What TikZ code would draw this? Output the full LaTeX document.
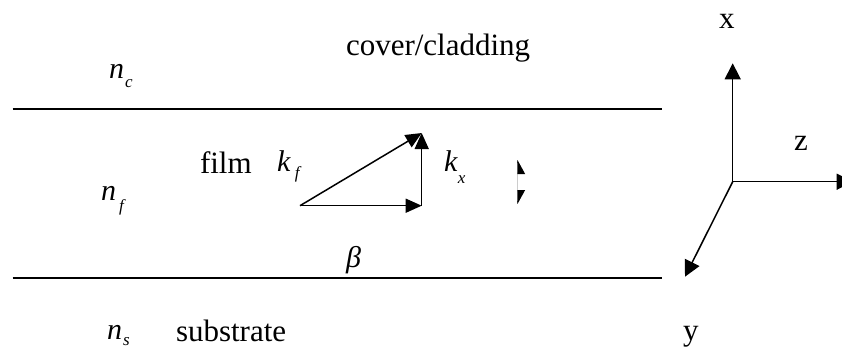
\documentclass[tikz,border=0pt]{standalone}
\usepackage{fontspec}
\setmainfont{Liberation Serif}
\usetikzlibrary{arrows.meta}
\newcommand{\sublab}[4]{\textit{#1}\hspace{#3}\raisebox{-#4}{\fontsize{17}{20}\selectfont\textit{#2}}}
\tikzset{
  lbl/.style={anchor=base west, inner sep=0pt, outer sep=0pt, font=\fontsize{31}{36}\selectfont},
  mlbl/.style={anchor=base west, inner sep=0pt, outer sep=0pt, font=\fontsize{30}{36}\selectfont},
  layerline/.style={line width=2pt},
  vec/.style={line width=1.5pt, -{Triangle[length=16pt,width=14pt]}},
  axis/.style={line width=1.5pt, -{Triangle[length=16pt,width=16pt]}},
  fragarrow/.style={line width=1.2pt, gray!60, {Triangle[length=14pt,width=15pt,color=black]}-{Triangle[length=14pt,width=15pt,color=black]}}
}
\begin{document}
\begin{tikzpicture}[x=1pt,y=-1pt]
\clip (0,0) rectangle (842,349);
\fill[white] (0,0) rectangle (842,349);
% layer boundaries
\coordinate (L1a) at (12.7,109.3);
\coordinate (L1b) at (661.7,109.3);
\coordinate (L2a) at (12.7,277.7);
\coordinate (L2b) at (661.7,277.7);
\draw[layerline] (L1a) -- (L1b);
\draw[layerline] (L2a) -- (L2b);
% texts
\node[lbl] (cover) at (346,55) {cover/cladding};
\node[lbl] (film) at (200,173) {film};
\node[lbl] (subs) at (176,341) {substrate};
\node[mlbl] (nc) at (109,78) {\sublab{n}{c}{1pt}{9pt}};
\node[mlbl] (nf) at (101,200) {\sublab{n}{f}{3pt}{11pt}};
\node[mlbl] (ns) at (107,339) {\sublab{n}{s}{1pt}{6pt}};
\node[mlbl] (kf) at (277,171) {\sublab{k}{f}{4pt}{7pt}};
\node[mlbl] (kx) at (444,171) {\sublab{k}{x}{0pt}{12pt}};
\node[mlbl] (beta) at (346,267) {\textit{β}};
% wave vector triangle
\coordinate (A) at (300,205.7);
\coordinate (B) at (421.7,205.7);
\coordinate (C) at (421.7,133);
\draw[vec] (A) -- (B);
\draw[vec] (B) -- (C);
\draw[vec] (A) -- (C);
% clipped double arrow fragment
\begin{scope}
\clip (517.3,150) rectangle (525,210);
\coordinate (D1) at (517.5,160);
\coordinate (D2) at (517.5,204);
\draw[fragarrow] (D1) -- (D2);
\end{scope}
% axes
\coordinate (O) at (732.7,181.7);
\coordinate (X) at (732.7,63.3);
\coordinate (Z) at (852.7,181.7);
\coordinate (Y) at (685,276.7);
\draw[axis] (O) -- (X);
\draw[axis] (O) -- (Z);
\draw[axis] (O) -- (Y);
\node[lbl] (xl) at (719,28) {x};
\node[lbl] (zl) at (794,150) {z};
\node[lbl] (yl) at (683,340) {y};
\end{tikzpicture}
\end{document}
